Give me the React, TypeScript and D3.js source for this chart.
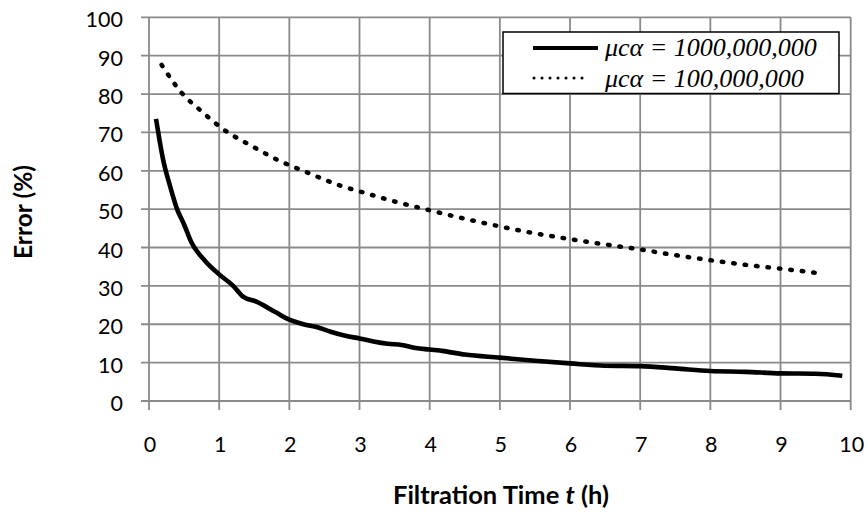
import React from "react";
import * as d3 from "d3";

// filtration time (h) and error (%)
const timeHigh = [0.1, 0.15, 0.2, 0.3, 0.4, 0.5, 0.6, 0.8, 1.0, 1.2, 1.34, 1.53, 1.8, 2.0, 2.2, 2.4, 2.6, 2.8, 3.0, 3.2, 3.4, 3.6, 3.8, 4.0, 4.2, 4.5, 5.0, 5.5, 6.0, 6.5, 7.0, 7.5, 8.0, 8.5, 9.0, 9.5, 9.88];
const errorHigh = [73.5, 68, 63, 56, 50, 46, 41.5, 36.5, 33, 30, 27.2, 25.9, 23.2, 21.2, 20, 19.2, 18, 17, 16.3, 15.5, 14.9, 14.6, 13.8, 13.4, 13, 12.1, 11.3, 10.5, 9.8, 9.2, 9.1, 8.5, 7.8, 7.6, 7.2, 7.1, 6.6];

const timeLow = [0.18, 0.47, 0.73, 1.06, 1.46, 1.87, 2.25, 2.67, 3.1, 3.5, 4.0, 4.5, 5.0, 5.5, 6.0, 6.5, 7.0, 7.5, 8.0, 8.5, 9.0, 9.6];
const errorLow = [87.6, 80.2, 75.8, 70.8, 66.5, 62.5, 59.6, 56.5, 54.1, 52, 49.7, 47.5, 45.5, 43.7, 42.2, 40.8, 39.5, 38, 36.7, 35.5, 34.5, 33.2];

const xTicks = [0, 1, 2, 3, 4, 5, 6, 7, 8, 9, 10];
const yTicks = [0, 10, 20, 30, 40, 50, 60, 70, 80, 90, 100];
const legendLabels = ["\u03bcc\u03b1 = 1000,000,000", "\u03bcc\u03b1 = 100,000,000"];

const width = 868;
const height = 514;
const plot = { left: 149, right: 850.7, top: 17.3, bottom: 401 };
const gridColor = "#8a8a8a";
const tickFont = "Lato, 'Open Sans', sans-serif";
const legendFont = "'Times New Roman', 'Liberation Serif', Times, serif";

export default function App() {
  const x = d3.scaleLinear().domain([0, 10]).range([plot.left, plot.right]);
  const y = d3.scaleLinear().domain([0, 100]).range([plot.bottom, plot.top]);

  const line = d3
    .line<[number, number]>()
    .x((d) => x(d[0]))
    .y((d) => y(d[1]))
    .curve(d3.curveMonotoneX);

  const highPts = timeHigh.map((t, i) => [t, errorHigh[i]] as [number, number]);
  const lowPts = timeLow.map((t, i) => [t, errorLow[i]] as [number, number]);

  return (
    <svg
      width={width}
      height={height}
      style={{ position: "absolute", left: 0, top: 0, background: "#fff" }}
    >
      {/* grid */}
      {xTicks.map((t) => (
        <line key={"vx" + t} x1={x(t)} x2={x(t)} y1={plot.top} y2={plot.bottom + 9} stroke={gridColor} strokeWidth={1.8} />
      ))}
      {yTicks.map((t) => (
        <line key={"hy" + t} x1={plot.left - 8} x2={plot.right} y1={y(t)} y2={y(t)} stroke={gridColor} strokeWidth={1.8} />
      ))}

      {/* tick labels */}
      {xTicks.map((t) => (
        <text key={"xl" + t} x={x(t) + 1} y={452} textAnchor="middle" fontFamily={tickFont} fontSize={21.5} fill="#000">
          {t}
        </text>
      ))}
      {yTicks.map((t) => (
        <text key={"yl" + t} x={123} y={y(t) + 10} textAnchor="end" fontFamily={tickFont} fontSize={21.5} fill="#000">
          {t}
        </text>
      ))}

      {/* series */}
      <path d={line(lowPts) || ""} fill="none" stroke="#000" strokeWidth={4.5} strokeLinecap="round" strokeDasharray="1.5 10" />
      <path d={line(highPts) || ""} fill="none" stroke="#000" strokeWidth={4.6} strokeLinejoin="round" />

      {/* legend */}
      <rect x={503} y={32} width={336} height={61.5} fill="#fff" stroke="#000" strokeWidth={1.5} />
      <line x1={533} x2={598} y1={48} y2={48} stroke="#000" strokeWidth={4} />
      <line x1={534} x2={590} y1={78} y2={78} stroke="#000" strokeWidth={3} strokeLinecap="round" strokeDasharray="0 8" />
      {legendLabels.map((s, i) => (
        <text key={s} x={605} y={i === 0 ? 56 : 87} style={{ fontFamily: legendFont, fontStyle: "italic", fontSize: "26px" }} fill="#000">
          {s}
        </text>
      ))}

      {/* axis titles */}
      <text
        transform={`translate(32, 212) rotate(-90)`}
        textAnchor="middle"
        fontFamily={tickFont}
        fontWeight="bold"
        fontSize={24.5}
        fill="#000"
      >
        Error (%)
      </text>
      <text x={501} y={504} textAnchor="middle" fontFamily={tickFont} fontWeight="bold" fontSize={25.5} fill="#000">
        Filtration Time <tspan fontStyle="italic">t</tspan> (h)
      </text>
    </svg>
  );
}
